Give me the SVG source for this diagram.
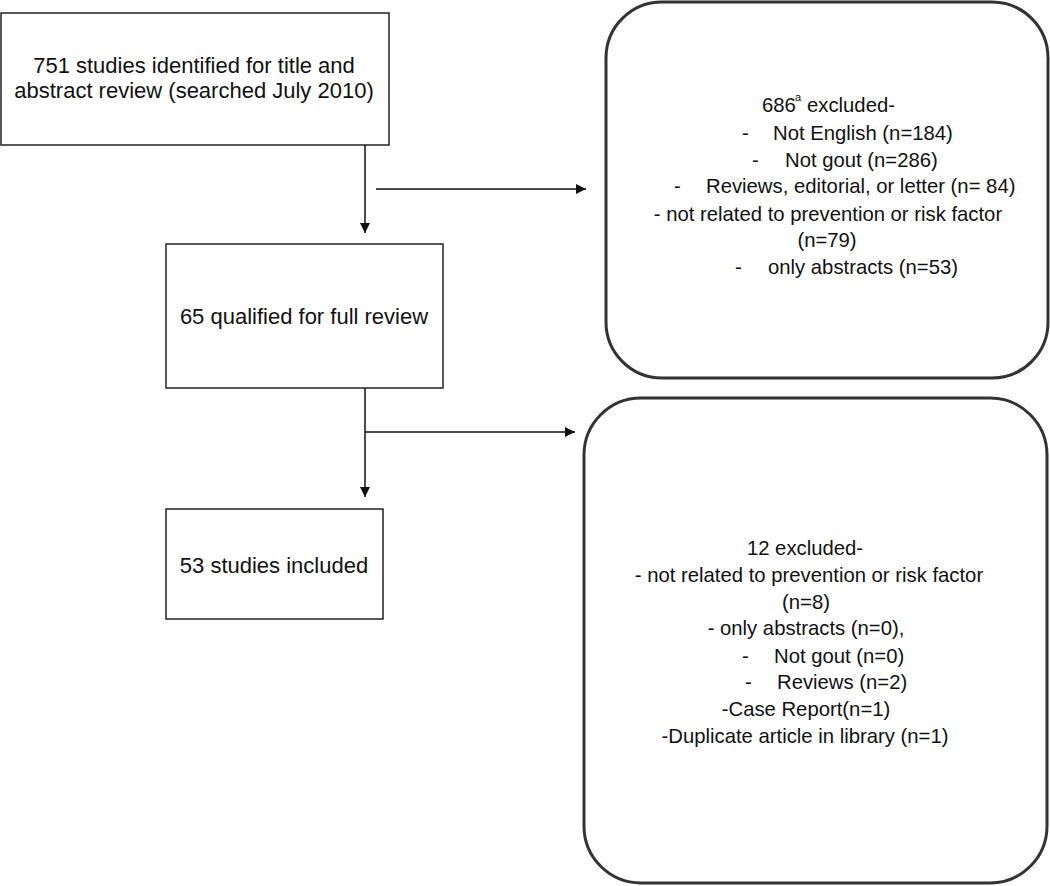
<svg xmlns="http://www.w3.org/2000/svg" width="1050" height="886" viewBox="0 0 1050 886">
<defs>
<style>
.box{fill:#fff;stroke:#222;stroke-width:1.5}
.rbox{fill:#fff;stroke:#333;stroke-width:3}
.t1{font-family:"Liberation Sans",Arial,sans-serif;font-size:22px;fill:#111}
.t2{font-family:"Liberation Sans",Arial,sans-serif;font-size:20.3px;fill:#111}
.sup{font-family:"Liberation Sans",Arial,sans-serif;font-size:11px;fill:#111}
.ln{fill:none;stroke:#111;stroke-width:1.5}
</style>
<marker id="ah" viewBox="0 0 10 10" refX="10" refY="5" markerWidth="10" markerHeight="10" markerUnits="userSpaceOnUse" orient="auto">
<path d="M0,0 L10,5 L0,10 z" fill="#111"/>
</marker>
</defs>
<rect width="1050" height="886" fill="#fff"/>
<g id="connectors">
<line class="ln" x1="365" y1="145" x2="365" y2="233" marker-end="url(#ah)"/>
<line class="ln" x1="376" y1="189" x2="586" y2="189" marker-end="url(#ah)"/>
<line class="ln" x1="365" y1="388" x2="365" y2="497" marker-end="url(#ah)"/>
<line class="ln" x1="365" y1="432" x2="575" y2="432" marker-end="url(#ah)"/>
</g>
<g id="n1">
<rect class="box" x="1" y="13" width="388" height="132"/>
<text class="t1" x="194" y="73" text-anchor="middle">751 studies identified for title and</text>
<text class="t1" x="194" y="98" text-anchor="middle">abstract review (searched July 2010)</text>
</g>
<g id="n2">
<rect class="box" x="166" y="244" width="277" height="144"/>
<text class="t1" x="304" y="324" text-anchor="middle">65 qualified for full review</text>
</g>
<g id="n3">
<rect class="box" x="166" y="509" width="217" height="110"/>
<text class="t1" x="274" y="573" text-anchor="middle">53 studies included</text>
</g>
<g id="n4">
<rect class="rbox" x="606" y="2" width="442" height="376" rx="56" ry="56"/>
<text class="t2" x="762" y="112">686</text>
<text class="sup" x="795" y="101">a</text>
<text class="t2" x="807" y="112">excluded-</text>
<text class="t2" x="742" y="140">-</text>
<text class="t2" x="773" y="140">Not English (n=184)</text>
<text class="t2" x="752" y="167">-</text>
<text class="t2" x="785" y="167">Not gout (n=286)</text>
<text class="t2" x="674" y="193">-</text>
<text class="t2" x="706" y="193">Reviews, editorial, or letter (n= 84)</text>
<text class="t2" x="828" y="221" text-anchor="middle">- not related to prevention or risk factor</text>
<text class="t2" x="827" y="247" text-anchor="middle">(n=79)</text>
<text class="t2" x="735" y="274">-</text>
<text class="t2" x="768" y="274">only abstracts (n=53)</text>
</g>
<g id="n5">
<rect class="rbox" x="584" y="398" width="463" height="485" rx="57" ry="57"/>
<text class="t2" x="805" y="555" text-anchor="middle">12 excluded-</text>
<text class="t2" x="809" y="582" text-anchor="middle">- not related to prevention or risk factor</text>
<text class="t2" x="806" y="609" text-anchor="middle">(n=8)</text>
<text class="t2" x="806" y="635" text-anchor="middle">- only abstracts (n=0),</text>
<text class="t2" x="742" y="663">-</text>
<text class="t2" x="774" y="663">Not gout (n=0)</text>
<text class="t2" x="745" y="689">-</text>
<text class="t2" x="777" y="689">Reviews (n=2)</text>
<text class="t2" x="806" y="716" text-anchor="middle">-Case Report(n=1)</text>
<text class="t2" x="805" y="743" text-anchor="middle">-Duplicate article in library (n=1)</text>
</g>
</svg>
